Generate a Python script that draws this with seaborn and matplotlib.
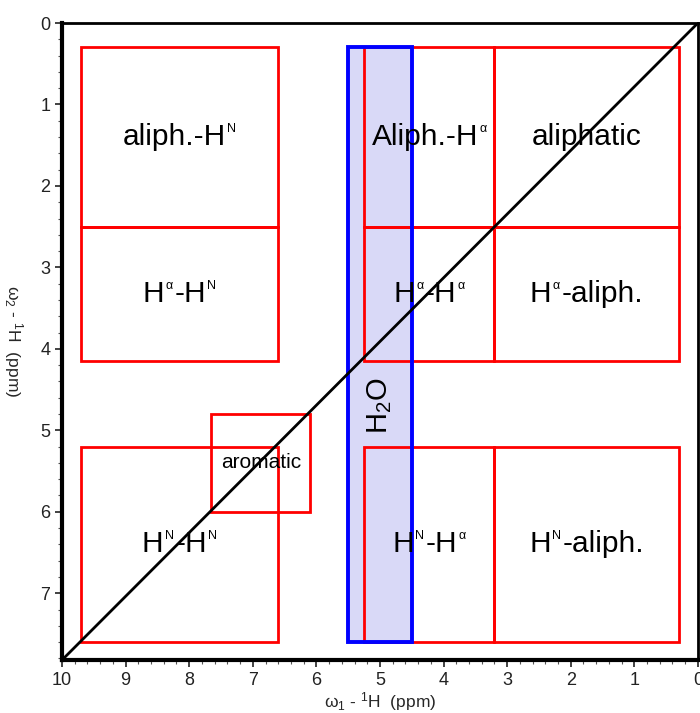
import matplotlib
matplotlib.use('Agg')
import matplotlib.pyplot as plt
import matplotlib.patches as patches
from matplotlib.ticker import MultipleLocator
from matplotlib.offsetbox import TextArea, HPacker, AnnotationBbox
import seaborn as sns

# 2D 1H-1H spectrum regions, coordinates in ppm
# each label is a list of (text, is_superscript) pieces
region_labels = [
    [('aliph.-H', 0), ('N', 1)],
    [('H', 0), ('α', 1), ('-H', 0), ('N', 1)],
    [('H', 0), ('N', 1), ('-H', 0), ('N', 1)],
    [('aromatic', 0)],
    [('Aliph.-H', 0), ('α', 1)],
    [('aliphatic', 0)],
    [('H', 0), ('α', 1), ('-H', 0), ('α', 1)],
    [('H', 0), ('α', 1), ('-aliph.', 0)],
    [('H', 0), ('N', 1), ('-H', 0), ('α', 1)],
    [('H', 0), ('N', 1), ('-aliph.', 0)],
]
w1_high = [9.7, 9.7, 9.7, 7.65, 5.25, 3.2, 5.25, 3.2, 5.25, 3.2]
w1_low = [6.6, 6.6, 6.6, 6.1, 3.2, 0.3, 3.2, 0.3, 3.2, 0.3]
w2_top = [0.3, 2.5, 5.2, 4.8, 0.3, 0.3, 2.5, 2.5, 5.2, 5.2]
w2_bottom = [2.5, 4.15, 7.6, 6.0, 2.5, 2.5, 4.15, 4.15, 7.6, 7.6]
label_size = [21.5, 21.5, 21.5, 15, 21.5, 21.5, 21.5, 21.5, 21.5, 21.5]

# water band
water_w1 = [5.5, 4.5]
water_w2 = [0.3, 7.6]

# spectral window (diagonal runs corner to corner)
w1_range = [10, 0]
w2_range = [7.82, 0]

sns.set_style('ticks')
plt.rcParams['font.family'] = ['Liberation Sans', 'DejaVu Sans']
plt.rcParams['mathtext.fontset'] = 'custom'
plt.rcParams['mathtext.rm'] = 'Liberation Sans'
plt.rcParams['mathtext.it'] = 'Liberation Sans:italic'

fig = plt.figure(figsize=(7, 7.13), dpi=100)
ax = fig.add_axes([0.0886, 0.0743, 0.9084, 0.8934])

# water band
ax.add_patch(patches.Rectangle((water_w1[1], water_w2[0]), water_w1[0] - water_w1[1],
                               water_w2[1] - water_w2[0], facecolor='#d9d9f7',
                               edgecolor='none', zorder=1))

# region boxes + labels
for i in range(len(region_labels)):
    ax.add_patch(patches.Rectangle((w1_low[i], w2_top[i]), w1_high[i] - w1_low[i],
                                   w2_bottom[i] - w2_top[i], facecolor='none',
                                   edgecolor='#ff0000', linewidth=2, zorder=2))
    pieces = []
    for txt, sup in region_labels[i]:
        size = label_size[i] * (0.42 if sup else 1)
        pieces.append(TextArea(txt, textprops=dict(fontsize=size, color='black')))
    pack = HPacker(children=pieces, align='top', pad=0, sep=1)
    ab = AnnotationBbox(pack, ((w1_high[i] + w1_low[i]) / 2, (w2_top[i] + w2_bottom[i]) / 2),
                        xycoords='data', frameon=False, box_alignment=(0.5, 0.5), pad=0,
                        zorder=5)
    ax.add_artist(ab)

ax.add_patch(patches.Rectangle((water_w1[1], water_w2[0]), water_w1[0] - water_w1[1],
                               water_w2[1] - water_w2[0], facecolor='none',
                               edgecolor='#0000ff', linewidth=2.8, zorder=3))
ax.text(sum(water_w1) / 2, 4.7, r'H$_{\mathrm{2}}$O', rotation=90, ha='center', va='center',
        fontsize=21, color='black', zorder=5)

# diagonal
sns.lineplot(x=w1_range, y=w2_range, color='black', linewidth=2, ax=ax, zorder=4)

ax.set_xlim(w1_range)
ax.set_ylim(w2_range)
ax.xaxis.set_major_locator(MultipleLocator(1))
ax.xaxis.set_minor_locator(MultipleLocator(0.2))
ax.yaxis.set_major_locator(MultipleLocator(1))
ax.yaxis.set_minor_locator(MultipleLocator(0.2))
ax.tick_params(which='major', length=5, width=1.2, direction='out', colors='#222222',
               labelsize=13)
ax.tick_params(which='minor', length=3, width=0.8, direction='out', colors='#555555')
for lab in ax.get_xticklabels() + ax.get_yticklabels():
    lab.set_color('#222222')
    lab.set_family(['Liberation Sans Narrow', 'Liberation Sans'])

for side in ['top', 'right']:
    ax.spines[side].set_linewidth(2)
for side in ['left', 'bottom']:
    ax.spines[side].set_linewidth(3)
for sp in ax.spines.values():
    sp.set_color('black')

ax.set_xlabel(r'$\mathrm{\omega}_{\mathrm{1}}$ - $^{\mathrm{1}}$H  (ppm)', fontsize=12.5)
ax.xaxis.set_label_coords(0.5, -0.048)
ax.set_ylabel(r'$\mathrm{\omega}_{\mathrm{2}}$ - $^{\mathrm{1}}$H  (ppm)', fontsize=12.5,
              rotation=-90, va='center')
ax.yaxis.set_label_coords(-0.076, 0.5)

fig.savefig('out.png', dpi=100)
